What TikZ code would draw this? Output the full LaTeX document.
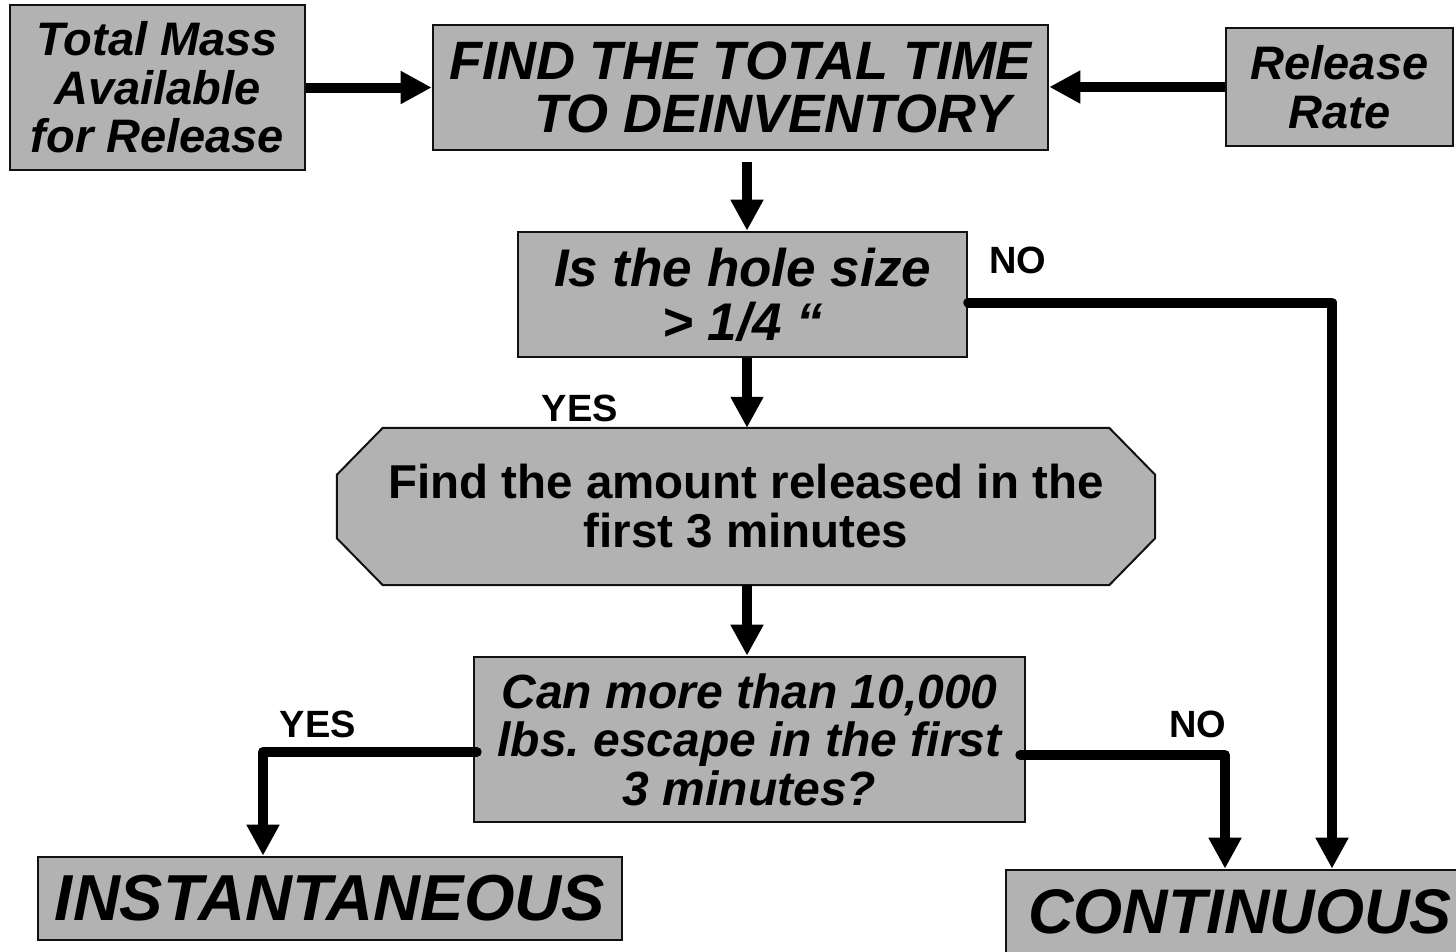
\documentclass[tikz,border=0pt]{standalone}
\usepackage{fontspec}
\setmainfont{Liberation Sans}
\usetikzlibrary{arrows.meta,calc,backgrounds}
\definecolor{boxgray}{HTML}{B2B2B2}
\definecolor{edge}{HTML}{111111}
\frenchspacing

\begin{document}
\begin{tikzpicture}[x=1pt,y=-1pt,
  box/.style={draw=edge, line width=2.6pt, fill=boxgray, align=center,
    inner sep=0pt, font=\bfseries\itshape},
  flow/.style={line width=10pt, line cap=round, line join=round,
    -{Triangle[length=31pt,width=31pt]}},
  straight/.style={line width=10pt, -{Triangle[length=31pt,width=31pt]}},
  answer/.style={font=\fontsize{38}{40}\selectfont\bfseries, inner sep=0pt}]

\useasboundingbox (0,0) rectangle (1456,951);

% inputs and the first step
\node[box, minimum width=295, minimum height=165,
      font=\fontsize{47}{48.5}\selectfont\bfseries\itshape]
  (mass) at (157.5,87.5) {Total Mass\\Available\\for Release};
\node[box, minimum width=615, minimum height=125,
      font=\fontsize{54}{53}\selectfont\bfseries\itshape]
  (find) at (740.5,87.5) {FIND THE TOTAL TIME\\\hspace*{1.2em}TO DEINVENTORY};
\node[box, minimum width=227, minimum height=118,
      font=\fontsize{47}{49}\selectfont\bfseries\itshape]
  (rate) at (1339.5,87) {Release\\Rate};

% decisions
\node[box, minimum width=449, minimum height=125,
      font=\fontsize{53}{54}\selectfont\bfseries\itshape]
  (hole) at (742.5,294.5) {Is the hole size\\> 1/4 “};

% octagonal step: the node holds the text, its outline is drawn behind it
\node[align=center, inner sep=0pt, minimum width=818, minimum height=157,
      font=\fontsize{47.5}{49}\selectfont\bfseries]
  (amount) at (746,506.5) {Find the amount released in the\\first 3 minutes};
\begin{scope}[on background layer]
  \draw[draw=edge, line width=2pt, fill=boxgray, line join=miter]
    ($(amount.north west)+(46,0)$) -- ($(amount.north east)+(-46,0)$)
    -- ($(amount.north east)+(0,47)$) -- ($(amount.south east)+(0,-47)$)
    -- ($(amount.south east)+(-46,0)$) -- ($(amount.south west)+(46,0)$)
    -- ($(amount.south west)+(0,-47)$) -- ($(amount.north west)+(0,47)$)
    -- cycle;
\end{scope}

\node[box, minimum width=551, minimum height=165,
      font=\fontsize{48}{48.5}\selectfont\bfseries\itshape]
  (can) at (749.5,739.5) {Can more than 10,000\\lbs. escape in the first\\3 minutes?};

% outcomes
\node[box, minimum width=584, minimum height=83,
      font=\fontsize{65}{65}\selectfont\bfseries\itshape]
  (inst) at (330,898.5) {INSTANTANEOUS};
\node[box, minimum width=468, minimum height=84,
      font=\fontsize{63}{63}\selectfont\bfseries\itshape]
  (cont) at (1240,912) {CONTINUOUS};

% main column of the flow
\coordinate (axis) at (747,0);
\draw[straight] (mass.east) -- (find.west);
\draw[straight] (rate.west) -- (find.east |- rate.west);
\draw[straight, shorten <=11pt] (find.south -| axis) -- (hole.north -| axis);
\draw[straight] (hole.south -| axis) -- (amount.north -| axis);
\draw[straight] (amount.south -| axis) -- (can.north -| axis);

% branches
\draw[flow] ([yshift=-8pt]hole.east) -| ([xshift=92pt]cont.north);
\draw[flow] ([xshift=4pt,yshift=-12.5pt]can.west) -| ([xshift=-67pt]inst.north);
\draw[flow] ([xshift=-6pt,yshift=-15.5pt]can.east) -| ([xshift=-15pt]cont.north);

% branch labels
\node[answer] (noA) at (1018,260) {NO};
\node[answer] (yesA) at (580,408) {YES};
\node[answer] (yesB) at (318,724) {YES};
\node[answer] (noB) at (1198,724) {NO};
\end{tikzpicture}
\end{document}
